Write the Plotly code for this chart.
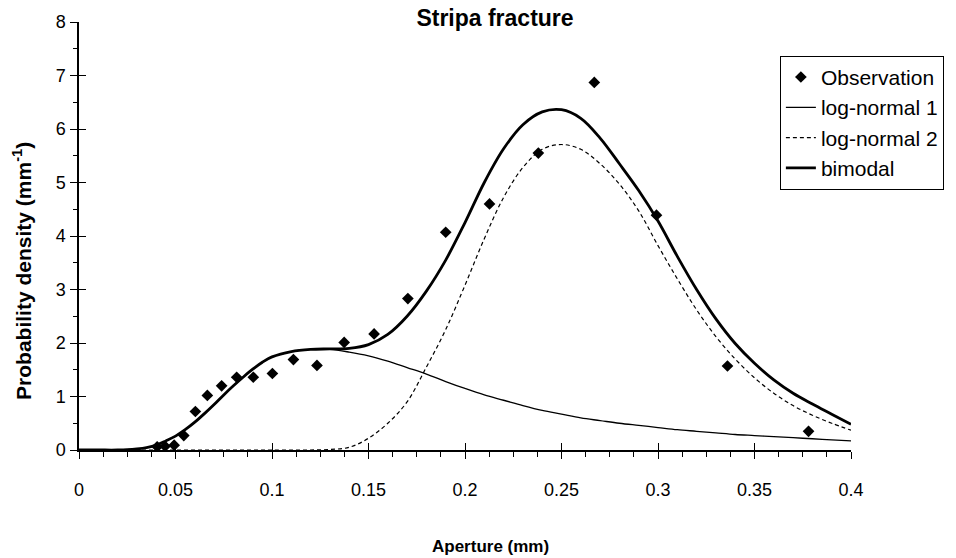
import plotly.graph_objects as go

# ---- data ----
obs_x = [0.0405, 0.0446, 0.0493, 0.0543, 0.0603, 0.0665, 0.0739, 0.0817, 0.0903, 0.1002,
         0.1111, 0.1233, 0.1374, 0.1529, 0.1704, 0.1900, 0.2127, 0.2380, 0.2670, 0.2992,
         0.3360, 0.3780]
obs_y = [0.06, 0.07, 0.09, 0.27, 0.72, 1.02, 1.20, 1.36, 1.36, 1.43,
         1.69, 1.58, 2.01, 2.17, 2.83, 4.07, 4.60, 5.55, 6.87, 4.39,
         1.57, 0.35]

curve_x = [0.0, 0.01, 0.02, 0.025, 0.03, 0.035, 0.04, 0.045, 0.05, 0.055,
           0.06, 0.065, 0.07, 0.075, 0.08, 0.085, 0.09, 0.095, 0.10, 0.11,
           0.12, 0.13, 0.14, 0.15, 0.16, 0.17, 0.18, 0.19, 0.20, 0.21,
           0.22, 0.23, 0.24, 0.25, 0.26, 0.27, 0.28, 0.29, 0.30, 0.31,
           0.32, 0.33, 0.34, 0.35, 0.36, 0.37, 0.38, 0.39, 0.40]
lognormal1_y = [0.0, 0.0, 0.0, 0.005, 0.02, 0.045, 0.09, 0.17, 0.26, 0.38,
                0.52, 0.68, 0.85, 1.03, 1.20, 1.36, 1.51, 1.64, 1.74, 1.84,
                1.88, 1.88, 1.83, 1.76, 1.66, 1.54, 1.42, 1.28, 1.15, 1.03,
                0.93, 0.83, 0.74, 0.67, 0.60, 0.55, 0.50, 0.46, 0.42, 0.38,
                0.35, 0.32, 0.29, 0.27, 0.25, 0.23, 0.21, 0.19, 0.17]
lognormal2_y = [0.0, 0.0, 0.0, 0.0, 0.0, 0.0, 0.0, 0.0, 0.0, 0.0,
                0.0, 0.0, 0.0, 0.0, 0.0, 0.0, 0.0, 0.0, 0.0, 0.0,
                0.0, 0.01, 0.05, 0.22, 0.50, 0.90, 1.55, 2.25, 3.08, 3.95,
                4.72, 5.28, 5.62, 5.71, 5.62, 5.35, 4.97, 4.47, 3.82, 3.20,
                2.62, 2.12, 1.70, 1.35, 1.06, 0.83, 0.65, 0.50, 0.37]
bimodal_y = [0.0, 0.0, 0.0, 0.005, 0.02, 0.045, 0.09, 0.17, 0.26, 0.38,
             0.52, 0.68, 0.85, 1.03, 1.20, 1.36, 1.51, 1.64, 1.74, 1.84,
             1.88, 1.89, 1.90, 1.97, 2.16, 2.50, 2.97, 3.55, 4.25, 5.00,
             5.63, 6.08, 6.32, 6.36, 6.20, 5.83, 5.35, 4.85, 4.28, 3.62,
             3.00, 2.45, 1.99, 1.62, 1.31, 1.06, 0.86, 0.67, 0.48]

x_range = [0, 0.4]
y_range = [0, 8]
FONT = "Liberation Sans, Arial, Helvetica, sans-serif"

# plot-area geometry (pixels)
L, R, T, B = 79, 852, 20, 450
W, H = 956, 558
PW, PH = R - L, B - T

fig = go.Figure()
fig.add_trace(go.Scatter(x=obs_x, y=obs_y, mode="markers", name="Observation",
                         marker=dict(symbol="diamond", size=9, color="black")))
fig.add_trace(go.Scatter(x=curve_x, y=lognormal1_y, mode="lines", name="log-normal 1",
                         line=dict(color="black", width=1.3, shape="spline")))
fig.add_trace(go.Scatter(x=curve_x, y=lognormal2_y, mode="lines", name="log-normal 2",
                         line=dict(color="black", width=1.2, dash="4px,3px", shape="spline")))
fig.add_trace(go.Scatter(x=curve_x, y=bimodal_y, mode="lines", name="bimodal",
                         line=dict(color="black", width=2.8, shape="spline")))
# helper trace for the overlaid tick axes (crossing ticks)
fig.add_trace(go.Scatter(x=[None], y=[None], xaxis="x2", yaxis="y2",
                         showlegend=False, hoverinfo="skip"))

fig.update_layout(
    width=W, height=H,
    margin=dict(l=L, r=W - R, t=T, b=H - B),
    paper_bgcolor="white", plot_bgcolor="white",
    font=dict(family=FONT, color="black", size=18),
    title=dict(text="<b>Stripa fracture</b>", x=495 / W, xanchor="center",
               y=1 - 18 / H, yanchor="middle", yref="container",
               font=dict(size=23, family=FONT, color="black")),
    xaxis=dict(range=x_range, tickmode="linear", tick0=0, dtick=0.05,
               ticks="outside", ticklen=7, tickwidth=1.3, tickcolor="black",
               showline=True, linecolor="black", linewidth=1.5,
               showgrid=False, zeroline=False, ticklabelstandoff=16,
               tickfont=dict(size=18),
               minor=dict(dtick=0.0125, ticks="outside", ticklen=5,
                          tickwidth=1.2, tickcolor="black", showgrid=False)),
    yaxis=dict(range=y_range, tickmode="linear", tick0=0, dtick=1,
               ticks="outside", ticklen=7, tickwidth=1.3, tickcolor="black",
               showline=True, linecolor="black", linewidth=1.5,
               showgrid=False, zeroline=False, ticklabelstandoff=1,
               tickfont=dict(size=18),
               minor=dict(dtick=0.5, ticks="outside", ticklen=4,
                          tickwidth=1.2, tickcolor="black", showgrid=False)),
    xaxis2=dict(range=x_range, overlaying="x", anchor="y", side="bottom",
                tickmode="linear", tick0=0, dtick=0.05, ticks="inside", ticklen=7,
                tickwidth=1.3, tickcolor="black", showticklabels=False,
                showline=False, showgrid=False, zeroline=False),
    yaxis2=dict(range=y_range, overlaying="y", anchor="x", side="left",
                tickmode="linear", tick0=0, dtick=1, ticks="inside", ticklen=7,
                tickwidth=1.3, tickcolor="black", showticklabels=False,
                showline=False, showgrid=False, zeroline=False),
    legend=dict(x=(945 - L) / PW, xanchor="right", y=(B - 54) / PH, yanchor="top",
                bordercolor="black", borderwidth=1, bgcolor="white",
                font=dict(size=21, family=FONT, color="black"),
                tracegroupgap=0),
    showlegend=True,
)

fig.add_annotation(text="<b>Aperture (mm)</b>", xref="paper", yref="paper",
                   x=(491 - L) / PW, y=(B - 547) / PH,
                   xanchor="center", yanchor="middle", showarrow=False,
                   font=dict(size=17, family=FONT, color="black"))
fig.add_annotation(text="<b>Probability density (mm<sup>-1</sup>)</b>",
                   xref="paper", yref="paper",
                   x=(22 - L) / PW, y=(B - 270) / PH, textangle=-90,
                   xanchor="center", yanchor="middle", showarrow=False,
                   font=dict(size=21, family=FONT, color="black"))

fig.write_html("out.html")
